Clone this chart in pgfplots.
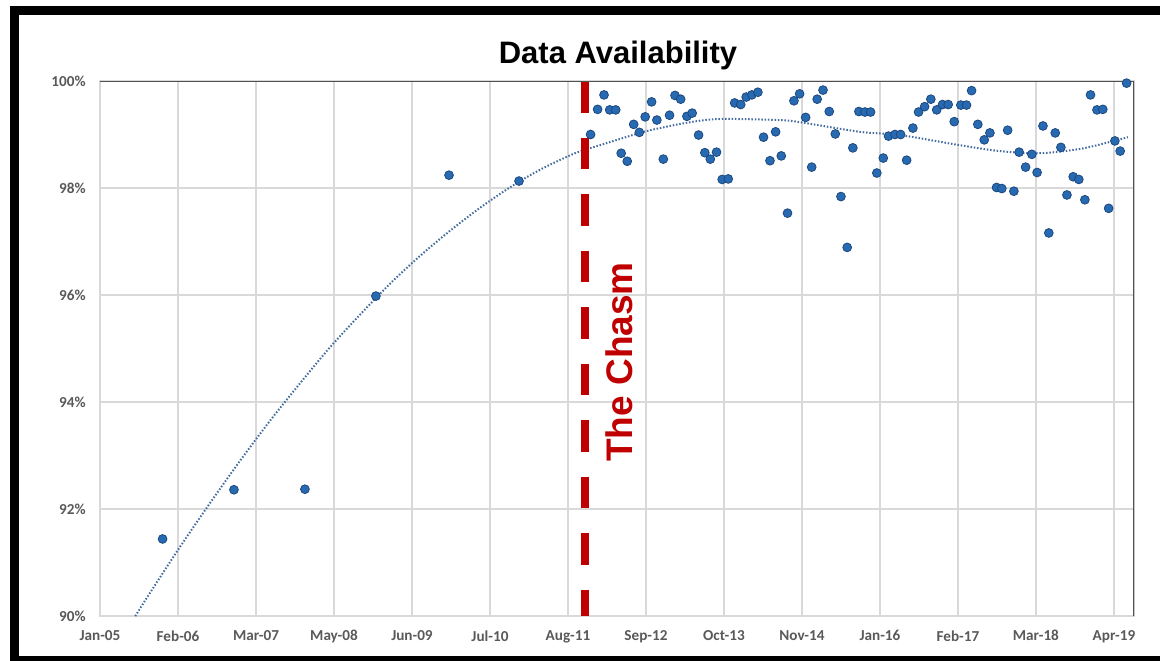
\documentclass[border=0pt]{standalone}
\usepackage{pgfplots}
\pgfplotsset{compat=1.18}
\usepackage{fontspec}
\setmainfont{Liberation Sans}
\newfontfamily\calibri{Carlito}
\definecolor{dotfill}{RGB}{40,106,178}
\definecolor{dotedge}{RGB}{28,72,126}
\definecolor{trend}{RGB}{68,108,158}
\definecolor{chasm}{RGB}{192,0,0}
\definecolor{ticktext}{RGB}{89,89,89}
\definecolor{gridc}{RGB}{217,217,217}
\definecolor{axdark}{RGB}{80,80,80}
\begin{document}
\begin{tikzpicture}
\begin{axis}[
  name=ax,
  scale only axis, width=517pt, height=267.5pt,
  xmin=0, xmax=5303, ymin=90, ymax=100,
  xtick={0,400,...,5200},
  xticklabels={Jan-05,Feb-06,Mar-07,May-08,Jun-09,Jul-10,Aug-11,Sep-12,Oct-13,Nov-14,Jan-16,Feb-17,Mar-18,Apr-19},
  ytick={90,92,94,96,98,100},
  yticklabels={90\%,92\%,94\%,96\%,98\%,100\%},
  major tick length=0pt,
  grid=major,
  grid style={gridc, line width=0.6pt},
  axis line style={gridc, line width=0.9pt},
  ticklabel style={font=\calibri\bfseries\fontsize{7.6}{9}\selectfont, text=ticktext, inner sep=0pt},
  xticklabel style={anchor=north, yshift=-7pt},
  yticklabel style={anchor=east, xshift=-7pt},
  clip=true,
]
% trend line (polynomial fit)
\addplot[trend, line width=1pt, dash pattern=on 0.75pt off 0.9pt, smooth, tension=0.5] coordinates {
(154,89.84) (256,90.43) (410,91.29) (564,92.11) (718,92.90) (872,93.65) (1026,94.35) (1179,95.02)
(1333,95.63) (1487,96.21) (1641,96.73) (1795,97.20) (1949,97.63) (2102,98.01) (2256,98.34) (2436,98.65)
(2564,98.80) (2769,99.03) (2872,99.12) (3026,99.23) (3179,99.29) (3487,99.27) (3590,99.23) (3897,99.05)
(4102,98.99) (4410,98.80) (4615,98.69) (4820,98.65) (5025,98.73) (5179,98.86) (5272,98.95)
};
% the chasm
\addplot[chasm, line width=4pt, line cap=butt, dash pattern=on 15.75pt off 12.5pt] coordinates {(2487,100) (2487,90)};
% data
\addplot[only marks, mark=*, mark size=2.2pt, mark options={fill=dotfill, draw=dotedge, line width=0.4pt}] coordinates {
(321,91.44) (687,92.36) (1051,92.37) (1415,95.98) (1790,98.24) (2149,98.13)
(2516,99.00) (2552,99.47) (2585,99.74) (2614,99.46) (2645,99.46) (2673,98.65) (2704,98.50) (2737,99.19)
(2766,99.04) (2796,99.33) (2829,99.61) (2856,99.27) (2889,98.54) (2921,99.36) (2949,99.73) (2978,99.66)
(3010,99.34) (3037,99.40) (3070,98.99) (3102,98.66) (3130,98.54) (3162,98.67) (3191,98.16) (3222,98.17)
(3255,99.59) (3286,99.56) (3314,99.70) (3343,99.74) (3374,99.79) (3403,98.95) (3436,98.51) (3465,99.05)
(3494,98.60) (3526,97.53) (3559,99.63) (3588,99.76) (3619,99.32) (3650,98.39) (3678,99.66) (3708,99.83)
(3740,99.43) (3771,99.01) (3800,97.84) (3832,96.89) (3861,98.75) (3892,99.43) (3923,99.42) (3952,99.42)
(3984,98.28) (4017,98.56) (4044,98.97) (4077,99.00) (4106,99.00) (4137,98.52) (4169,99.12) (4198,99.42)
(4229,99.52) (4261,99.66) (4291,99.46) (4321,99.56) (4350,99.56) (4381,99.24) (4415,99.55) (4444,99.55)
(4470,99.82) (4502,99.19) (4535,98.90) (4564,99.03) (4598,98.01) (4625,97.99) (4655,99.08) (4687,97.94)
(4714,98.67) (4747,98.39) (4779,98.63) (4806,98.29) (4836,99.16) (4866,97.16) (4899,99.03) (4928,98.76)
(4959,97.87) (4991,98.21) (5020,98.16) (5051,97.78) (5080,99.74) (5113,99.46) (5143,99.47) (5173,97.62)
(5205,98.88) (5232,98.69) (5265,99.96)
};
\draw[axdark, line width=0.8pt] (rel axis cs:0,1) -- (rel axis cs:1,1) -- (rel axis cs:1,0);
\coordinate (BL) at (rel axis cs:0,0);
\end{axis}
\begin{scope}[shift={(BL)}, xshift=-50pt, yshift=-22pt, x=1pt, y=1pt]
\node[anchor=base, font=\bfseries\fontsize{15.5}{18}\selectfont] at (309,298) {Data Availability};
\node[anchor=base, rotate=90, text=chasm, font=\bfseries\fontsize{18.5}{22}\selectfont] at (316,149) {The Chasm};
\draw[black, line width=4.5pt] (7.25,0) rectangle (590,324.75);
\pgfresetboundingbox
\useasboundingbox (0,0) rectangle (580,330);
\end{scope}
\end{tikzpicture}
\end{document}
